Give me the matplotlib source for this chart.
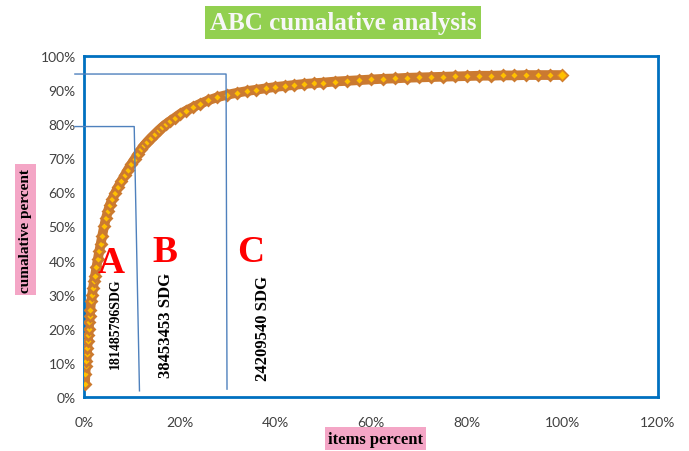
import matplotlib
matplotlib.use('Agg')
import matplotlib.pyplot as plt
from matplotlib.ticker import FuncFormatter

# items share (fraction) vs cumulative share (fraction)
items_pct = [0.002, 0.003, 0.004, 0.005, 0.006, 0.007, 0.008, 0.009, 0.010, 0.011,
             0.012, 0.013, 0.015, 0.017, 0.019, 0.021, 0.023, 0.026, 0.029, 0.032,
             0.035, 0.038, 0.042, 0.046, 0.050, 0.054, 0.059, 0.065, 0.071, 0.078,
             0.085, 0.092, 0.099, 0.106, 0.113, 0.120, 0.126, 0.132, 0.140, 0.148,
             0.156, 0.164, 0.172, 0.180, 0.190, 0.201, 0.214, 0.228, 0.243, 0.260,
             0.279, 0.299, 0.320, 0.340, 0.360, 0.380, 0.400, 0.420, 0.440, 0.460,
             0.480, 0.500, 0.525, 0.550, 0.575, 0.600, 0.625, 0.650, 0.675, 0.700,
             0.725, 0.750, 0.775, 0.800, 0.825, 0.850, 0.875, 0.900, 0.925, 0.950,
             0.975, 1.000]
cum_pct = [3.8, 6.7, 9.1, 10.6, 12.6, 14.5, 16.5, 18.3, 20.0, 22.0,
           23.8, 25.5, 28.0, 30.0, 32.0, 34.0, 35.5, 38.0, 40.5, 42.8,
           45.0, 47.2, 50.0, 52.5, 54.5, 56.3, 58.0, 59.8, 61.5, 63.3,
           65.0, 66.7, 68.3, 69.8, 71.3, 72.7, 73.8, 74.8, 76.0, 77.1,
           78.2, 79.2, 80.1, 80.9, 81.9, 83.0, 84.0, 85.0, 86.0, 87.0,
           87.9, 88.6, 89.2, 89.7, 90.1, 90.5, 90.9, 91.2, 91.5, 91.8,
           92.0, 92.2, 92.5, 92.7, 92.9, 93.1, 93.3, 93.4, 93.6, 93.7,
           93.8, 93.9, 94.0, 94.1, 94.2, 94.2, 94.3, 94.3, 94.4, 94.4,
           94.4, 94.4]
cum_pct = [v / 100 for v in cum_pct]

# class boundary guides (x, y)
guide_a_x = [-0.019, 0.105, 0.116]
guide_a_y = [0.793, 0.793, 0.018]
guide_bc_x = [-0.019, 0.297, 0.299]
guide_bc_y = [0.947, 0.947, 0.023]

x_ticks = [0, 0.2, 0.4, 0.6, 0.8, 1.0, 1.2]
y_ticks = [0, 0.1, 0.2, 0.3, 0.4, 0.5, 0.6, 0.7, 0.8, 0.9, 1.0]

fig = plt.figure(figsize=(6.89, 4.52), dpi=100)
ax = fig.add_axes([0.1219, 0.1195, 0.8331, 0.7545])

ax.plot(items_pct, cum_pct, color='#CB7A30', lw=7, solid_capstyle='butt', zorder=2)
ax.plot(items_pct, cum_pct, linestyle='none', marker='D', markersize=5.6,
        markerfacecolor='#FFC000', markeredgecolor='#CB7A30', markeredgewidth=2.0, zorder=3)
# last point keeps its plain marker on top
ax.plot(items_pct[-1:], cum_pct[-1:], linestyle='none', marker='D', markersize=5.6,
        markerfacecolor='#FFC000', markeredgecolor='#E08A20', markeredgewidth=0.8, zorder=3)

ax.plot(guide_a_x, guide_a_y, color='#4F81BD', lw=1.0, clip_on=False, zorder=4)
ax.plot(guide_bc_x, guide_bc_y, color='#4F81BD', lw=1.0, clip_on=False, zorder=4)

ax.set_xlim(0, 1.2)
ax.set_ylim(0, 1.0)
ax.set_xticks(x_ticks)
ax.set_yticks(y_ticks)
pct = FuncFormatter(lambda v, _: f'{v * 100:.0f}%')
ax.xaxis.set_major_formatter(pct)
ax.yaxis.set_major_formatter(pct)
ax.tick_params(length=0, labelsize=10, labelcolor='#404040')
ax.tick_params(axis='x', pad=14)
ax.tick_params(axis='y', pad=6)
for lbl in ax.get_xticklabels() + ax.get_yticklabels():
    lbl.set_fontfamily('Lato')

for sp in ax.spines.values():
    sp.set_color('#0070C0')
    sp.set_linewidth(2.0)

serif = 'Liberation Serif'

# class letters
ax.text(0.056, 0.393, 'A', color='#FF0000', fontsize=27, fontweight='bold',
        fontfamily=serif, ha='center', va='center', zorder=5)
ax.text(0.169, 0.428, 'B', color='#FF0000', fontsize=27, fontweight='bold',
        fontfamily=serif, ha='center', va='center', zorder=5)
ax.text(0.349, 0.428, 'C', color='#FF0000', fontsize=27, fontweight='bold',
        fontfamily=serif, ha='center', va='center', zorder=5)

# class values
ax.text(0.066, 0.218, '181485796SDG', rotation=90, fontsize=10, fontweight='bold',
        fontfamily=serif, ha='center', va='center', zorder=5)
ax.text(0.172, 0.214, '38453453 SDG', rotation=90, fontsize=12, fontweight='bold',
        fontfamily=serif, ha='center', va='center', zorder=5)
ax.text(0.374, 0.205, '24209540 SDG', rotation=90, fontsize=12, fontweight='bold',
        fontfamily=serif, ha='center', va='center', zorder=5)

fig.text(0.4978, 0.947, 'ABC cumalative analysis', color='#F7F7F7', fontsize=18,
         fontweight='bold', fontfamily=serif, ha='center', va='center',
         bbox=dict(boxstyle='square,pad=0.2', facecolor='#92D050', edgecolor='none'))

fig.text(0.545, 0.027, 'items percent', color='black', fontsize=12,
         fontweight='bold', fontfamily=serif, ha='center', va='center',
         bbox=dict(boxstyle='square,pad=0.2', facecolor='#F4A6C6', edgecolor='none'))

fig.text(0.037, 0.49, 'cumalative percent', color='black', fontsize=11,
         fontweight='bold', fontfamily=serif, ha='center', va='center', rotation=90,
         bbox=dict(boxstyle='square,pad=0.25', facecolor='#F4A6C6', edgecolor='none'))

fig.savefig('out.png', dpi=100)
